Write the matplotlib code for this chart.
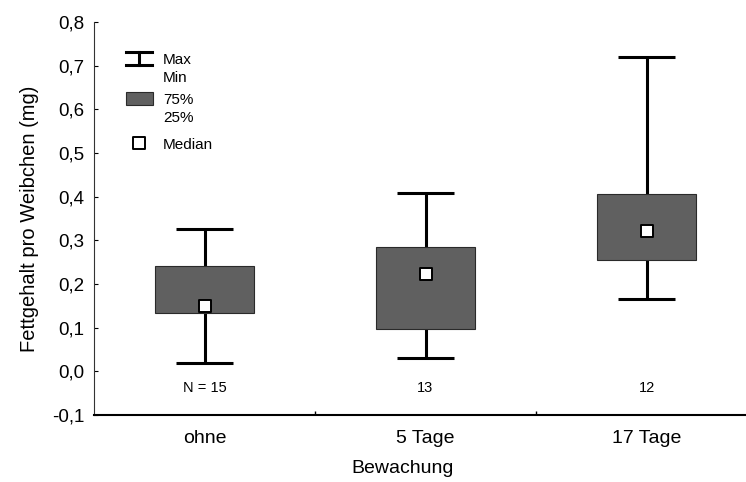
import matplotlib.pyplot as plt
import numpy as np

plt.rcParams["font.family"] = ["Liberation Sans", "DejaVu Sans"]

# data
groups = ["ohne", "5 Tage", "17 Tage"]
n_labels = ["N = 15", "13", "12"]
v_min = [0.019, 0.030, 0.166]
q25 = [0.134, 0.096, 0.256]
median = [0.149, 0.222, 0.321]
q75 = [0.242, 0.284, 0.405]
v_max = [0.327, 0.409, 0.720]

box_color = "#606060"
x = np.arange(len(groups))

fig = plt.figure(figsize=(7.46, 4.82), dpi=100)
ax = fig.add_axes([94 / 746, 67 / 482, 663 / 746, 393 / 482])

# whiskers (outside the box only) and caps
ax.vlines(x, v_min, q25, color="black", lw=2.2, zorder=2)
ax.vlines(x, q75, v_max, color="black", lw=2.2, zorder=2)
ax.hlines(v_min, x - 0.13, x + 0.13, color="black", lw=2.2, zorder=2)
ax.hlines(v_max, x - 0.13, x + 0.13, color="black", lw=2.2, zorder=2)

# boxes 25%..75%
ax.bar(x, np.array(q75) - np.array(q25), bottom=q25, width=0.45,
       color=box_color, edgecolor="#2a2a2a", lw=0.8, zorder=3)

# medians
ax.scatter(x, median, marker="s", s=68, facecolor="white", edgecolor="black",
           lw=1.4, zorder=4)

# sample sizes
for xi, lab in zip(x, n_labels):
    ax.text(xi, -0.039, lab, ha="center", va="center", fontsize=10.5)

ax.set_xlim(-0.5, 2.5)
ax.set_ylim(-0.1, 0.8)
yt = np.arange(-0.1, 0.81, 0.1)
ax.set_yticks(yt)
ax.set_yticklabels([f"{v:.1f}".replace(".", ",").replace("-0,0", "0,0") for v in yt])
ax.set_xticks(x)
ax.set_xticklabels(groups, fontsize=14)
ax.set_xticks([0.5, 1.5], minor=True)
ax.tick_params(axis="x", which="major", length=0, pad=11)
ax.tick_params(axis="x", which="minor", direction="in", length=3, width=1)
ax.tick_params(axis="y", direction="in", length=3, width=0.8, labelsize=13.5, pad=7)

ax.spines["top"].set_visible(False)
ax.spines["right"].set_visible(False)
ax.spines["left"].set_linewidth(0.8)
ax.spines["left"].set_color("#333333")
ax.spines["bottom"].set_linewidth(1.5)

ax.set_ylabel("Fettgehalt pro Weibchen (mg)", fontsize=14.5, labelpad=9)
ax.set_xlabel("Bewachung", fontsize=14)
ax.xaxis.set_label_coords((403 - 94) / 663, -0.115)

# legend drawn by hand in axes fraction
tr = ax.transAxes
def fx(px):
    return (px - 94) / 663
def fy(py):
    return (415 - py) / 393

ax.plot([fx(139), fx(139)], [fy(52), fy(65)], color="black", lw=2.2, transform=tr, clip_on=False)
ax.plot([fx(126), fx(152)], [fy(52), fy(52)], color="black", lw=2.2, transform=tr, clip_on=False)
ax.plot([fx(126), fx(152)], [fy(65), fy(65)], color="black", lw=2.2, transform=tr, clip_on=False)
ax.add_patch(plt.Rectangle((fx(126), fy(105)), fx(153) - fx(126), fy(92) - fy(105),
                           facecolor=box_color, edgecolor="#2a2a2a", lw=0.8, transform=tr))
ax.scatter([fx(139)], [fy(143)], marker="s", s=68, facecolor="white", edgecolor="black",
           lw=1.4, transform=tr, zorder=4)
leg_fs = 11
ax.text(fx(163), fy(60), "Max", fontsize=leg_fs, va="center", transform=tr)
ax.text(fx(163), fy(78), "Min", fontsize=leg_fs, va="center", transform=tr)
ax.text(fx(163), fy(100), "75%", fontsize=leg_fs, va="center", transform=tr)
ax.text(fx(163), fy(118), "25%", fontsize=leg_fs, va="center", transform=tr)
ax.text(fx(163), fy(145), "Median", fontsize=leg_fs, va="center", transform=tr)

fig.savefig("out.png", dpi=100)
